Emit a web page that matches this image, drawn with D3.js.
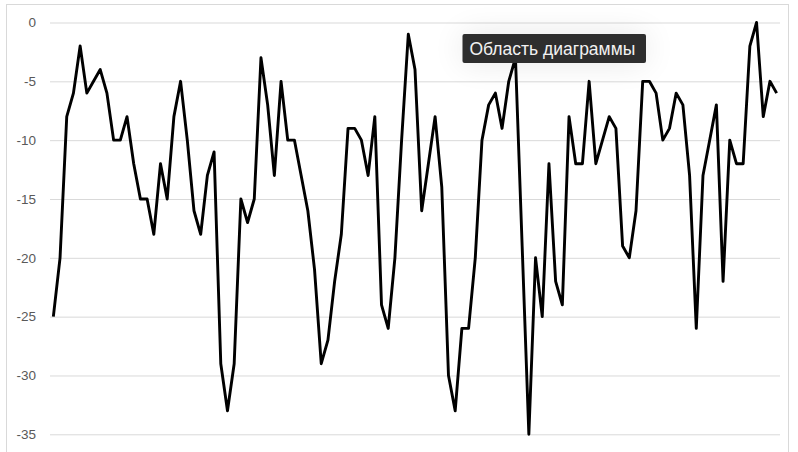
<!DOCTYPE html>
<html>
<head>
<meta charset="utf-8">
<script src="https://cdn.jsdelivr.net/npm/d3@7/dist/d3.min.js"></script>
<style>
  html, body { margin: 0; padding: 0; background: #ffffff; }
  svg { display: block; }
</style>
</head>
<body>
<div id="chart"></div>
<script>
// Series values, one per category
const values = [
  -25, -20, -8, -6, -2, -6, -5, -4, -6, -10,
  -10, -8, -12, -15, -15, -18, -12, -15, -8, -5,
  -10, -16, -18, -13, -11, -29, -33, -29, -15, -17,
  -15, -3, -7, -13, -5, -10, -10, -13, -16, -21,
  -29, -27, -22, -18, -9, -9, -10, -13, -8, -24,
  -26, -20, -10, -1, -4, -16, -12, -8, -14, -30,
  -33, -26, -26, -20, -10, -7, -6, -9, -5, -3,
  -19, -35, -20, -25, -12, -22, -24, -8, -12, -12,
  -5, -12, -10, -8, -9, -19, -20, -16, -5, -5,
  -6, -10, -9, -6, -7, -13, -26, -13, -10, -7,
  -22, -10, -12, -12, -2, 0, -8, -5, -6
];
// Categories are simple sequence numbers
const categories = values.map((_, i) => i + 1);
// Value axis ticks
const yTicks = [0, -5, -10, -15, -20, -25, -30, -35];
const tooltipText = "Область диаграммы";

const W = 798, H = 452;
const plot = { left: 50, right: 780, top: 22.5, bottom: 434.3 };

const svg = d3.select("#chart").append("svg")
  .attr("width", W).attr("height", H);

const defs = svg.append("defs");
const shadow = defs.append("filter").attr("id", "tipShadow")
  .attr("x", "-60%").attr("y", "-300%").attr("width", "220%").attr("height", "700%");
shadow.append("feGaussianBlur").attr("in", "SourceAlpha").attr("stdDeviation", 16).attr("result", "blur");
shadow.append("feComponentTransfer").attr("in", "blur").attr("result", "soft")
  .append("feFuncA").attr("type", "linear").attr("slope", 0.1);
const merge = shadow.append("feMerge");
merge.append("feMergeNode").attr("in", "soft");
merge.append("feMergeNode").attr("in", "SourceGraphic");

// Chart area frame
svg.append("rect")
  .attr("x", 6.5).attr("y", 4.5)
  .attr("width", 782).attr("height", 460)
  .attr("fill", "#ffffff")
  .attr("stroke", "#d9d9d9").attr("stroke-width", 1);

const x = d3.scalePoint()
  .domain(categories)
  .range([plot.left, plot.right])
  .padding(0.5);

const y = d3.scaleLinear()
  .domain([-35, 0])
  .range([plot.bottom, plot.top]);

// Horizontal gridlines and tick labels via a left axis
const yAxis = d3.axisLeft(y)
  .tickValues(yTicks)
  .tickSize(-(plot.right - plot.left))
  .tickPadding(14)
  .tickFormat(d3.format("d"));

const gy = svg.append("g")
  .attr("transform", `translate(${plot.left},0)`)
  .call(yAxis);
gy.select(".domain").remove();
gy.selectAll(".tick line")
  .attr("stroke", "#d9d9d9").attr("stroke-width", 1);
gy.selectAll(".tick text")
  .attr("fill", "#595959")
  .attr("font-family", "'Liberation Sans', Arial, Helvetica, sans-serif")
  .attr("font-size", "13.5px")
  .text(d => d === 0 ? "0" : String(d).replace("\u2212", "-"));

// Data line
const line = d3.line()
  .x((d, i) => x(categories[i]))
  .y(d => y(d));

svg.append("path")
  .datum(values)
  .attr("fill", "none")
  .attr("stroke", "#000000")
  .attr("stroke-width", 2.9)
  .attr("stroke-linejoin", "round")
  .attr("stroke-linecap", "butt")
  .attr("d", line);

// Hover tooltip over the chart area
const tip = svg.append("g").attr("transform", "translate(462.5,34)");
tip.append("rect")
  .attr("width", 183.5).attr("height", 29)
  .attr("rx", 2)
  .attr("fill", "#2e2e2e")
  .attr("filter", "url(#tipShadow)");
tip.append("text")
  .attr("x", 7).attr("y", 20.5)
  .attr("fill", "#f2f2f2")
  .attr("font-family", "'Liberation Sans', Arial, Helvetica, sans-serif")
  .attr("font-size", "17.5px")
  .text(tooltipText);
</script>
</body>
</html>
